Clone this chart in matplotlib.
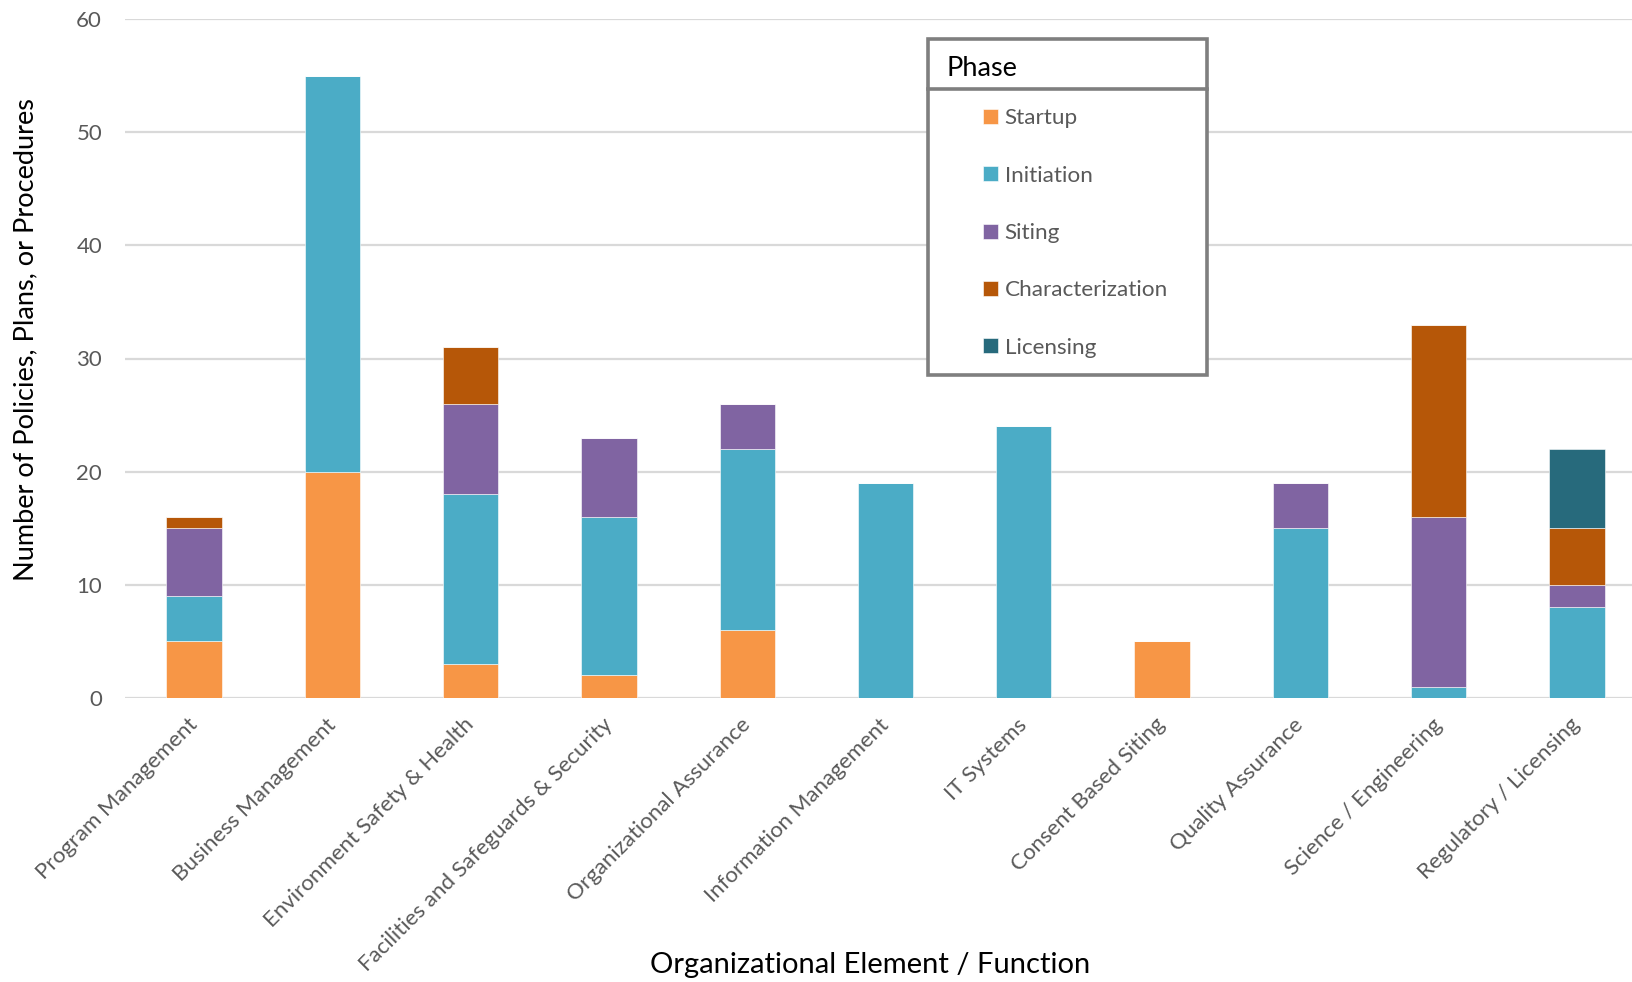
import matplotlib
matplotlib.use("Agg")
import matplotlib.pyplot as plt
from matplotlib.patches import Rectangle
from matplotlib.lines import Line2D
import numpy as np

plt.rcParams["font.family"] = ["Lato", "DejaVu Sans"]

categories = [
    "Program Management", "Business Management", "Environment Safety & Health",
    "Facilities and Safeguards & Security", "Organizational Assurance",
    "Information Management", "IT Systems", "Consent Based Siting",
    "Quality Assurance", "Science / Engineering", "Regulatory / Licensing",
]
phases = ["Startup", "Initiation", "Siting", "Characterization", "Licensing"]
startup = [5, 20, 3, 2, 6, 0, 0, 5, 0, 0, 0]
initiation = [4, 35, 15, 14, 16, 19, 24, 0, 15, 1, 8]
siting = [6, 0, 8, 7, 4, 0, 0, 0, 4, 15, 2]
characterization = [1, 0, 5, 0, 0, 0, 0, 0, 0, 17, 5]
licensing = [0, 0, 0, 0, 0, 0, 0, 0, 0, 0, 7]
colors = ["#F79646", "#4BACC6", "#8064A2", "#B65708", "#276A7C"]

W, H = 1633, 982
fig = plt.figure(figsize=(W / 100, H / 100), dpi=100)
ax = fig.add_axes([125 / W, 1 - 698 / H, 1 - 125 / W, (698 - 19) / H])

x = np.arange(len(categories))
bottom = np.zeros(len(categories))
handles = []
for name, vals, c in zip(phases, [startup, initiation, siting, characterization, licensing], colors):
    vals = np.array(vals, dtype=float)
    b = ax.bar(x, vals, 0.4, bottom=bottom, color=c, label=name,
               edgecolor="#ffffff", linewidth=0.4, zorder=3)
    handles.append(b)
    bottom += vals

ax.set_xlim(-0.5, 10.5 - 13 / 138.3)
ax.set_ylim(0, 60)
ax.set_yticks(range(0, 61, 10))
ax.grid(axis="y", color="#d9d9d9", linewidth=1.6, zorder=0)
ax.set_axisbelow(True)
for s in ax.spines.values():
    s.set_visible(False)
ax.tick_params(axis="both", length=0, colors="#595959", labelsize=16)
ax.tick_params(axis="y", pad=16.5)
ax.set_xticks(x)
ax.set_xticklabels(categories, rotation=45, ha="right", va="center",
                   rotation_mode="anchor", fontsize=16, color="#595959")
ax.tick_params(axis="x", pad=17)

fig.text(26 / W, 1 - 340 / H, "Number of Policies, Plans, or Procedures",
         rotation=90, ha="center", va="center", fontsize=19.5, color="black")
fig.text(870 / W, 1 - 965 / H, "Organizational Element / Function",
         ha="center", va="center", fontsize=21, color="black")

# legend box with title strip
bx0, by0, bx1, by1 = 928, 39, 1207, 375
fig.patches.append(Rectangle((bx0 / W, 1 - by1 / H), (bx1 - bx0) / W, (by1 - by0) / H,
                             transform=fig.transFigure, facecolor="white",
                             edgecolor="#7f7f7f", linewidth=2.6, zorder=5))
fig.lines.append(Line2D([bx0 / W, bx1 / W], [1 - 89 / H, 1 - 89 / H],
                        transform=fig.transFigure, color="#7f7f7f", linewidth=2.6, zorder=6))
fig.text(947 / W, 1 - 68 / H, "Phase", ha="left", va="center", fontsize=19.5,
         color="black", zorder=7)
leg = fig.legend(handles=handles, labels=phases, loc="upper left",
                 bbox_to_anchor=(963 / W, 1 - 88 / H), frameon=False,
                 fontsize=16.2, labelcolor="#595959", handlelength=0.65,
                 handleheight=0.65, handletextpad=0.3, labelspacing=1.66)
leg.set_zorder(8)

fig.savefig("out.png", dpi=100)
